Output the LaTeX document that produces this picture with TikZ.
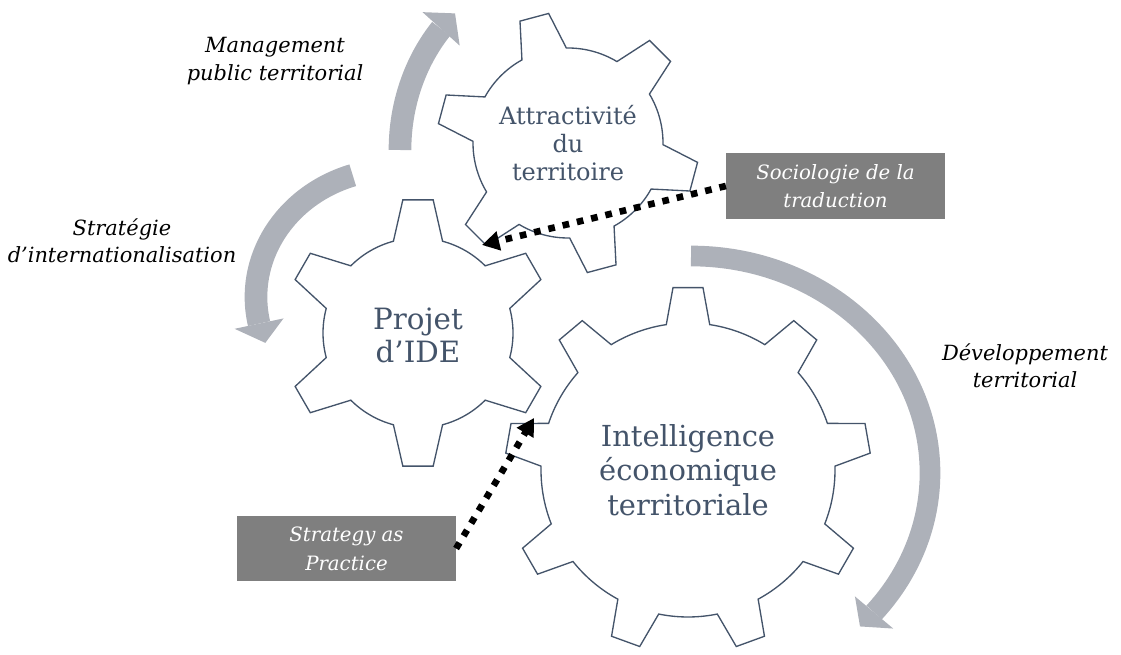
\documentclass[tikz,border=0pt]{standalone}
\usepackage{fontspec}
\setmainfont{DejaVu Serif}
\usetikzlibrary{arrows.meta,positioning}

\definecolor{geartext}{RGB}{68,84,106}
\definecolor{swirl}{RGB}{173,177,185}
\definecolor{boxgray}{RGB}{127,127,127}

\tikzset{
  gearline/.style={draw=geartext, line width=1pt, fill=white},
  gearlabel/.style={text=geartext, align=center, inner sep=0pt},
  sidelabel/.style={align=center, inner sep=0pt, font=\itshape\fontsize{15.7}{20.5}\selectfont},
  theorybox/.style={fill=boxgray, text=white, align=center, inner sep=0pt,
    minimum width=164pt, minimum height=49pt, font=\itshape\fontsize{14.8}{21.5}\selectfont},
  link/.style={line width=5pt, dash pattern=on 5pt off 6pt, -{Triangle[length=13pt,width=14pt]}},
}

% gear: centre x, centre y, teeth, root r, tip r, first tooth angle, tip half angle, root half angle
\newcommand{\drawgear}[8]{%
  \pgfmathsetmacro{\gearstep}{360/#3}
  \begin{scope}[shift={(#1,#2)}]
    \filldraw[gearline] ({#6-#8}:#4)
      \foreach \k in {1,...,#3} {
        -- ({#6+(\k-1)*\gearstep-#7}:#5) -- ({#6+(\k-1)*\gearstep+#7}:#5)
        -- ({#6+(\k-1)*\gearstep+#8}:#4)
        arc[start angle={#6+(\k-1)*\gearstep+#8}, end angle={#6+\k*\gearstep-#8}, radius=#4]
      } -- cycle;
  \end{scope}}

% curved arrow: centre x, centre y, x radius, y radius, start, head base, tip, band width
\newcommand{\drawswirl}[8]{%
  \pgfmathsetmacro{\swxi}{#3-25}\pgfmathsetmacro{\swyi}{#4-25}
  \pgfmathsetmacro{\swxo}{#3+25}\pgfmathsetmacro{\swyo}{#4+25}
  \begin{scope}[shift={(#1,#2)}]
    \draw[swirl, line width=#8] (#5:#3 and #4) arc[start angle=#5, end angle=#6, x radius=#3, y radius=#4];
    \fill[swirl] (#6:{\swxi} and {\swyi}) -- (#6:{\swxo} and {\swyo}) -- (#7:#3 and #4) -- cycle;
  \end{scope}}

\begin{document}
\begin{tikzpicture}[x=0.75pt,y=-0.75pt]
\useasboundingbox (0,0) rectangle (1121,655);

% the three turning arrows
\drawswirl{560}{150}{160}{181}{180}{222}{229}{17pt}
\drawswirl{396}{297}{140}{128}{252}{168}{159}{17pt}
\drawswirl{691}{473}{239}{217}{270}{400}{405}{15.5pt}

% gears
\drawgear{568}{143}{6}{95}{131}{-105}{6.5}{14}
\drawgear{418}{333}{6}{95}{134}{-90}{6.5}{15}
\drawgear{688}{470}{9}{147}{183}{-90}{4.7}{8.5}

\node[gearlabel, font=\fontsize{18}{20.8}\selectfont] (attract) at (568,143) {Attractivité\\du\\territoire};
\node[gearlabel, font=\fontsize{22}{24.8}\selectfont] (projet) at (418,335) {Projet\\d’IDE};
\node[gearlabel, font=\fontsize{21.7}{26}\selectfont] (intel) at (688,470) {Intelligence\\économique\\territoriale};

% theories around the gears
\node[sidelabel] (mgmt) at (275,61) {Management\\public territorial};
\node[sidelabel] (strat) at (122,241) {Stratégie\\d’internationalisation};
\node[sidelabel] (devt) at (1025,366) {Développement\\territorial};

\node[theorybox] (socio) at (835.5,186) {Sociologie de la\\traduction};
\node[theorybox] (sap) at (346.5,548.5) {Strategy as\\Practice};

\coordinate (socio tip) at (482,245);
\coordinate (sap tip) at (534,418);
\draw[link] (socio.west) -- (socio tip);
\draw[link] (sap.east) -- (sap tip);
\end{tikzpicture}
\end{document}
